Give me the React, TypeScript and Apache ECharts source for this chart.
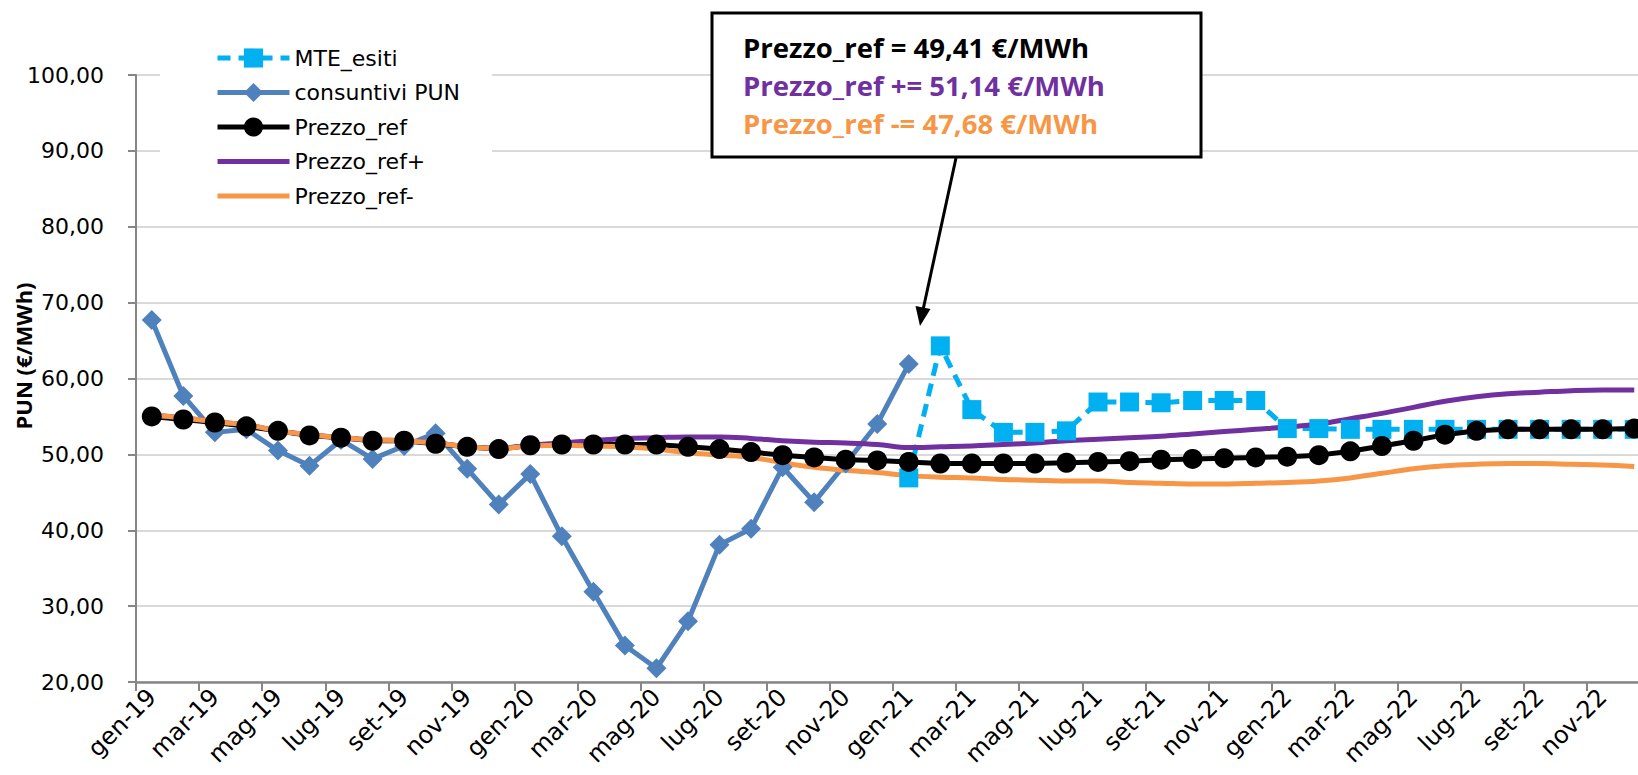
import React, { useEffect, useRef } from 'react';
import * as echarts from 'echarts';

const categories = [
  'gen-19', 'feb-19', 'mar-19', 'apr-19', 'mag-19', 'giu-19', 'lug-19', 'ago-19', 'set-19', 'ott-19', 'nov-19', 'dic-19',
  'gen-20', 'feb-20', 'mar-20', 'apr-20', 'mag-20', 'giu-20', 'lug-20', 'ago-20', 'set-20', 'ott-20', 'nov-20', 'dic-20',
  'gen-21', 'feb-21', 'mar-21', 'apr-21', 'mag-21', 'giu-21', 'lug-21', 'ago-21', 'set-21', 'ott-21', 'nov-21', 'dic-21',
  'gen-22', 'feb-22', 'mar-22', 'apr-22', 'mag-22', 'giu-22', 'lug-22', 'ago-22', 'set-22', 'ott-22', 'nov-22', 'dic-22',
];

const mteEsiti = [
  null, null, null, null, null, null, null, null, null, null, null, null,
  null, null, null, null, null, null, null, null, null, null, null, null,
  46.9, 64.3, 55.9, 52.9, 52.9, 53.1, 56.9, 56.9, 56.8, 57.1, 57.1, 57.1,
  53.4, 53.4, 53.3, 53.3, 53.3, 53.3, 53.3, 53.3, 53.3, 53.3, 53.3, 53.3,
];

const consuntiviPun = [
  67.7, 57.7, 52.9, 53.3, 50.5, 48.5, 51.9, 49.4, 51.1, 52.8, 48.1, 43.4,
  47.4, 39.2, 31.9, 24.8, 21.8, 28.0, 38.1, 40.2, 48.3, 43.7, 48.8, 54.0,
  61.9, null, null, null, null, null, null, null, null, null, null, null,
  null, null, null, null, null, null, null, null, null, null, null, null,
];

const prezzoRef = [
  55.0, 54.6, 54.2, 53.7, 53.1, 52.5, 52.2, 51.8, 51.8, 51.4, 51.0, 50.7,
  51.2, 51.3, 51.3, 51.3, 51.3, 51.0, 50.7, 50.3, 49.9, 49.6, 49.3, 49.2,
  49.0, 48.8, 48.8, 48.8, 48.8, 48.9, 49.0, 49.1, 49.3, 49.4, 49.5, 49.6,
  49.7, 49.9, 50.4, 51.1, 51.8, 52.6, 53.1, 53.3, 53.3, 53.3, 53.3, 53.4,
];

const prezzoRefPlus = [
  55.2, 54.8, 54.3, 53.9, 53.1, 52.6, 52.2, 51.9, 51.8, 51.5, 51.0, 50.8,
  51.2, 51.5, 51.8, 52.1, 52.2, 52.3, 52.3, 52.1, 51.8, 51.6, 51.5, 51.3,
  50.9, 51.0, 51.1, 51.3, 51.5, 51.8, 52.0, 52.2, 52.4, 52.7, 53.0, 53.3,
  53.6, 54.0, 54.7, 55.4, 56.2, 57.0, 57.6, 58.0, 58.2, 58.4, 58.5, 58.5,
];

const prezzoRefMinus = [
  55.2, 54.8, 54.3, 53.9, 53.1, 52.6, 52.2, 51.9, 51.8, 51.5, 51.0, 50.8,
  51.1, 51.2, 51.1, 51.0, 50.7, 50.2, 49.9, 49.6, 48.9, 48.3, 47.9, 47.6,
  47.2, 47.0, 46.9, 46.7, 46.6, 46.5, 46.5, 46.3, 46.2, 46.1, 46.1, 46.2,
  46.3, 46.5, 46.9, 47.5, 48.1, 48.5, 48.7, 48.8, 48.8, 48.7, 48.6, 48.4,
];

const boxLines = [
  { text: 'Prezzo_ref = 49,41 €/MWh', color: '#000000' },
  { text: 'Prezzo_ref += 51,14 €/MWh', color: '#7030A0' },
  { text: 'Prezzo_ref -= 47,68 €/MWh', color: '#F79646' },
];

const COLORS = {
  mte: '#00B0F0',
  pun: '#4F81BD',
  ref: '#000000',
  plus: '#7030A0',
  minus: '#F79646',
};

export default function App() {
  const ref = useRef<HTMLDivElement>(null);

  useEffect(() => {
    const chart = echarts.init(ref.current!, null, { renderer: 'svg' });
    const barIcon = 'path://M0,0H72V5H0Z';
    chart.setOption({
      animation: false,
      backgroundColor: '#ffffff',
      grid: {
        left: 136,
        top: 75,
        width: 1514,
        height: 607,
        containLabel: false,
        outerBoundsMode: 'none',
      },
      legend: {
        orient: 'vertical',
        left: 160,
        top: 36,
        padding: [10, 32, 10, 55],
        backgroundColor: '#ffffff',
        itemWidth: 72,
        itemHeight: 24,
        itemGap: 10.5,
        lineStyle: { width: 5 },
        textStyle: { fontFamily: 'DejaVu Sans', fontSize: 22, color: '#000', lineHeight: 24 },
        data: [
          { name: 'MTE_esiti' },
          { name: 'consuntivi PUN' },
          { name: 'Prezzo_ref' },
          { name: 'Prezzo_ref+', icon: barIcon },
          { name: 'Prezzo_ref-', icon: barIcon },
        ],
      },
      xAxis: {
        type: 'category',
        data: categories,
        boundaryGap: true,
        axisLine: { lineStyle: { color: '#868686', width: 2.5 } },
        axisTick: { show: true, interval: 1, length: 9, lineStyle: { color: '#868686', width: 2 } },
        axisLabel: {
          interval: 1,
          rotate: 45,
          margin: 11,
          fontFamily: 'DejaVu Sans',
          fontSize: 24,
          color: '#000',
        },
        splitLine: { show: false },
      },
      yAxis: {
        type: 'value',
        min: 20,
        max: 100,
        interval: 10,
        axisLine: { show: true, lineStyle: { color: '#868686', width: 2 } },
        axisTick: { show: true, length: 8, lineStyle: { color: '#868686', width: 2 } },
        axisLabel: {
          margin: 32,
          fontFamily: 'DejaVu Sans',
          fontSize: 22,
          color: '#000',
          formatter: (v: number) => v.toFixed(2).replace('.', ','),
        },
        splitLine: { show: true, lineStyle: { color: '#d9d9d9', width: 2 } },
      },
      series: [
        {
          name: 'MTE_esiti',
          type: 'line',
          data: mteEsiti,
          symbol: 'rect',
          symbolSize: 19,
          showAllSymbol: true,
          itemStyle: { color: COLORS.mte },
          lineStyle: { color: COLORS.mte, width: 5, type: [13, 8] },
        },
        {
          name: 'consuntivi PUN',
          type: 'line',
          data: consuntiviPun,
          symbol: 'diamond',
          symbolSize: 20,
          showAllSymbol: true,
          itemStyle: { color: COLORS.pun },
          lineStyle: { color: COLORS.pun, width: 5 },
        },
        {
          name: 'Prezzo_ref',
          type: 'line',
          data: prezzoRef,
          symbol: 'circle',
          symbolSize: 20,
          showAllSymbol: true,
          itemStyle: { color: COLORS.ref },
          lineStyle: { color: COLORS.ref, width: 5 },
        },
        {
          name: 'Prezzo_ref+',
          type: 'line',
          data: prezzoRefPlus,
          symbol: 'none',
          smooth: 0.4,
          itemStyle: { color: COLORS.plus },
          lineStyle: { color: COLORS.plus, width: 5 },
        },
        {
          name: 'Prezzo_ref-',
          type: 'line',
          data: prezzoRefMinus,
          symbol: 'none',
          smooth: 0.4,
          itemStyle: { color: COLORS.minus },
          lineStyle: { color: COLORS.minus, width: 5 },
        },
      ],
      graphic: [
        {
          type: 'text',
          x: 23,
          y: 356,
          rotation: Math.PI / 2,
          style: {
            text: 'PUN (€/MWh)',
            align: 'center',
            verticalAlign: 'middle',
            fontFamily: 'Open Sans',
            fontWeight: 'bold',
            fontSize: 22,
            fill: '#000',
          },
        },
        {
          type: 'rect',
          z: 100,
          shape: { x: 712, y: 13, width: 489, height: 144 },
          style: { fill: '#ffffff', stroke: '#000000', lineWidth: 3 },
        },
        ...boxLines.map((l, i) => ({
          type: 'text',
          z: 101,
          x: 743,
          y: 47 + i * 38.3,
          style: {
            text: l.text,
            verticalAlign: 'middle',
            fontFamily: 'Open Sans',
            fontWeight: 'bold',
            fontSize: 27.5,
            fill: l.color,
          },
        })),
        {
          type: 'line',
          z: 100,
          shape: { x1: 956, y1: 158, x2: 923, y2: 310 },
          style: { stroke: '#000', lineWidth: 3 },
        },
        {
          type: 'polygon',
          z: 100,
          shape: { points: [[920, 326], [930.5, 309], [915.5, 306]] },
          style: { fill: '#000' },
        },
      ],
    });
    return () => chart.dispose();
  }, []);

  return (
    <div
      ref={ref}
      style={{ position: 'fixed', left: 0, top: 0, width: 1638, height: 775, background: '#fff' }}
    />
  );
}
